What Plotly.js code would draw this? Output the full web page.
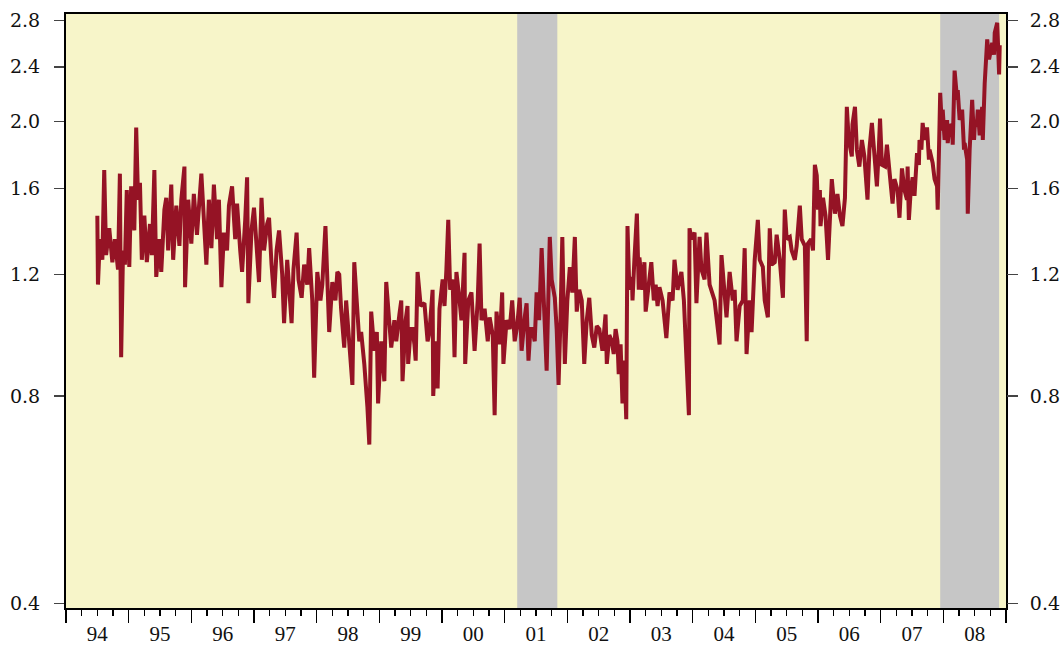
<!DOCTYPE html>
<html>
<head>
<meta charset="utf-8">
<script src="https://cdn.plot.ly/plotly-3.0.1.min.js"></script>
<style>html,body{margin:0;padding:0;background:#fff;}#chart{width:1062px;height:645px;}</style>
</head>
<body>
<div id="chart"></div>
<script>
const dates = [
1994.50,1994.51,1994.54,1994.58,1994.61,1994.64,1994.69,1994.74,1994.78,1994.83,
1994.86,1994.88,1994.91,1994.94,1994.97,1995.01,1995.04,1995.09,1995.12,1995.15,
1995.18,1995.21,1995.25,1995.29,1995.34,1995.37,1995.41,1995.44,1995.49,1995.52,
1995.57,1995.60,1995.63,1995.68,1995.71,1995.76,1995.81,1995.84,1995.89,1995.90,
1995.95,1996.00,1996.04,1996.09,1996.16,1996.20,1996.24,1996.28,1996.32,1996.36,
1996.41,1996.44,1996.48,1996.52,1996.57,1996.60,1996.65,1996.70,1996.73,1996.78,
1996.81,1996.86,1996.89,1996.91,1996.96,1997.00,1997.05,1997.08,1997.12,1997.16,
1997.21,1997.24,1997.28,1997.32,1997.36,1997.40,1997.45,1997.48,1997.53,1997.56,
1997.60,1997.63,1997.68,1997.71,1997.76,1997.80,1997.85,1997.88,1997.93,1997.96,
1998.01,1998.06,1998.09,1998.14,1998.17,1998.20,1998.25,1998.30,1998.33,1998.36,
1998.39,1998.44,1998.47,1998.52,1998.57,1998.60,1998.65,1998.68,1998.71,1998.76,
1998.81,1998.84,1998.87,1998.92,1998.96,1998.98,1999.03,1999.08,1999.11,1999.16,
1999.19,1999.24,1999.27,1999.32,1999.35,1999.37,1999.42,1999.45,1999.46,1999.50,
1999.53,1999.56,1999.58,1999.61,1999.66,1999.72,1999.77,1999.80,1999.85,1999.86,
1999.90,1999.93,1999.96,2000.01,2000.04,2000.07,2000.10,2000.13,2000.17,2000.20,
2000.23,2000.28,2000.31,2000.36,2000.37,2000.42,2000.47,2000.52,2000.57,2000.60,
2000.63,2000.68,2000.73,2000.76,2000.81,2000.84,2000.87,2000.92,2000.96,2000.98,
2001.03,2001.08,2001.12,2001.16,2001.20,2001.24,2001.27,2001.32,2001.35,2001.38,
2001.41,2001.44,2001.48,2001.51,2001.55,2001.59,2001.62,2001.67,2001.70,2001.72,
2001.75,2001.80,2001.83,2001.86,2001.89,2001.92,2001.96,2002.00,2002.04,2002.08,
2002.12,2002.15,2002.19,2002.23,2002.27,2002.31,2002.35,2002.39,2002.43,2002.47,
2002.51,2002.56,2002.61,2002.63,2002.67,2002.71,2002.74,2002.77,2002.80,2002.82,
2002.85,2002.88,2002.91,2002.94,2002.96,2002.99,2003.03,2003.04,2003.07,2003.11,
2003.14,2003.15,2003.20,2003.23,2003.25,2003.30,2003.34,2003.38,2003.41,2003.44,
2003.47,2003.52,2003.55,2003.58,2003.63,2003.68,2003.71,2003.76,2003.79,2003.82,
2003.86,2003.90,2003.94,2003.95,2003.98,2004.03,2004.06,2004.11,2004.14,2004.19,
2004.22,2004.27,2004.30,2004.35,2004.38,2004.43,2004.46,2004.51,2004.54,2004.59,
2004.64,2004.67,2004.70,2004.75,2004.80,2004.83,2004.86,2004.91,2004.94,2004.99,
2005.04,2005.07,2005.12,2005.15,2005.20,2005.23,2005.26,2005.31,2005.34,2005.39,
2005.44,2005.47,2005.50,2005.55,2005.58,2005.63,2005.66,2005.71,2005.74,2005.79,
2005.82,2005.84,2005.89,2005.92,2005.95,2005.98,2006.00,2006.03,2006.04,2006.08,
2006.12,2006.16,2006.19,2006.22,2006.27,2006.31,2006.35,2006.39,2006.43,2006.46,
2006.49,2006.54,2006.55,2006.59,2006.62,2006.66,2006.70,2006.74,2006.79,2006.82,
2006.86,2006.90,2006.94,2006.97,2006.99,2007.02,2007.07,2007.10,2007.15,2007.19,
2007.22,2007.27,2007.30,2007.34,2007.38,2007.42,2007.43,2007.45,2007.48,2007.51,
2007.54,2007.58,2007.61,2007.62,2007.65,2007.67,2007.70,2007.74,2007.77,2007.78,
2007.83,2007.86,2007.90,2007.91,2007.95,2007.98,2007.99,2008.02,2008.06,2008.07,
2008.10,2008.14,2008.15,2008.18,2008.22,2008.23,2008.26,2008.30,2008.33,2008.34,
2008.38,2008.39,2008.42,2008.46,2008.49,2008.50,2008.54,2008.55,2008.58,2008.62,
2008.63,2008.66,2008.70,2008.73,2008.78,2008.81,2008.82,2008.86,2008.89,2008.90
];
const values = [
1.46,1.16,1.35,1.26,1.70,1.28,1.40,1.25,1.35,1.22,
1.68,0.91,1.30,1.24,1.59,1.23,1.61,1.39,1.96,1.54,
1.63,1.26,1.46,1.25,1.42,1.28,1.70,1.19,1.35,1.21,
1.49,1.55,1.30,1.62,1.26,1.51,1.32,1.54,1.72,1.15,
1.54,1.33,1.57,1.37,1.68,1.39,1.24,1.54,1.31,1.62,
1.35,1.54,1.15,1.38,1.30,1.51,1.61,1.35,1.52,1.30,
1.21,1.44,1.66,1.09,1.39,1.50,1.26,1.17,1.55,1.30,
1.42,1.45,1.24,1.11,1.30,1.39,1.20,1.02,1.26,1.14,
1.02,1.22,1.38,1.18,1.11,1.24,1.16,1.31,1.10,0.85,
1.21,1.10,1.16,1.41,1.14,0.99,1.17,1.10,1.21,1.20,
1.07,0.94,1.10,0.95,0.83,1.25,1.07,0.96,0.99,0.89,
0.77,0.68,1.06,0.93,0.99,0.78,0.96,0.84,1.17,1.00,
0.94,1.03,0.96,1.05,1.10,0.84,1.03,1.08,0.89,1.00,
1.00,0.95,0.90,1.21,1.08,1.09,0.96,0.99,1.14,0.80,
0.96,0.82,1.07,1.18,1.08,1.22,1.44,1.14,1.18,0.91,
1.21,1.10,1.03,1.29,0.89,1.10,1.13,0.93,1.10,1.33,
1.03,1.07,0.96,1.04,0.98,0.75,1.06,0.95,1.13,0.89,
1.03,1.00,1.10,0.96,1.01,1.11,0.93,1.04,1.09,0.90,
1.00,1.00,0.96,1.13,1.03,1.31,1.10,0.87,1.14,1.36,
1.18,1.11,1.00,0.83,1.03,1.36,0.89,1.10,1.23,1.13,
1.36,1.06,1.14,1.10,0.89,1.03,1.11,0.98,0.94,1.01,
1.00,0.93,1.05,0.89,0.98,0.96,0.92,1.00,0.96,0.86,
0.95,0.78,0.90,0.74,1.41,1.14,1.19,1.10,1.26,1.47,
1.14,1.27,1.14,1.25,1.06,1.18,1.25,1.10,1.16,1.08,
1.15,1.10,1.03,0.97,1.13,1.10,1.26,1.14,1.18,1.21,
1.10,0.89,0.75,1.40,1.35,1.38,1.09,1.36,1.22,1.18,
1.38,1.16,1.14,1.10,1.04,0.95,1.28,1.14,1.04,1.21,
1.10,1.14,0.96,1.08,1.10,1.31,0.92,1.10,0.99,1.26,
1.44,1.26,1.23,1.10,1.04,1.40,1.24,1.25,1.37,1.26,
1.11,1.49,1.35,1.36,1.30,1.26,1.32,1.51,1.35,1.32,
0.96,1.33,1.35,1.30,1.73,1.67,1.49,1.59,1.41,1.55,
1.46,1.26,1.49,1.65,1.47,1.57,1.46,1.41,1.55,2.10,
1.88,1.78,1.98,2.10,1.82,1.72,1.88,1.78,1.54,1.82,
1.99,1.76,1.61,1.82,2.02,1.73,1.72,1.85,1.67,1.52,
1.65,1.59,1.45,1.71,1.59,1.54,1.72,1.44,1.59,1.66,
1.56,1.80,1.73,1.88,1.82,1.99,1.88,1.96,1.76,1.82,
1.74,1.65,1.61,1.49,2.20,1.94,2.08,1.88,2.01,1.86,
1.98,1.96,1.85,2.37,2.15,2.22,2.01,2.08,1.82,1.86,
1.76,1.47,1.82,2.15,1.88,1.96,2.01,2.08,1.91,2.10,
1.88,2.27,2.63,2.46,2.60,2.50,2.69,2.78,2.34,2.58
];
const yearStarts = [1994,1995,1996,1997,1998,1999,2000,2001,2002,2003,2004,2005,2006,2007,2008];
const yearLabels = ['94','95','96','97','98','99','00','01','02','03','04','05','06','07','08'];
const yTickVals = [0.4,0.8,1.2,1.6,2.0,2.4,2.8];
const yTickText = ['0.4','0.8','1.2','1.6','2.0','2.4','2.8'];
const recessionStart = [2001.20, 2007.95];
const recessionEnd = [2001.84, 2008.89];

const xRange = [1994, 2009];
const yRange = [Math.log10(0.394), Math.log10(2.863)];
const serif = 'DejaVu Serif, Liberation Serif, serif';

const trace = {
  x: dates, y: values, type: 'scatter', mode: 'lines',
  line: {color: '#951325', width: 4, shape: 'linear'},
  hoverinfo: 'skip', showlegend: false
};
// empty trace so the label axes (bottom year labels, right value labels) are drawn
const axisHolder = {
  x: [], y: [], type: 'scatter', mode: 'lines', xaxis: 'x2', yaxis: 'y2',
  hoverinfo: 'skip', showlegend: false
};

const shapes = recessionStart.map((s, i) => ({
  type: 'rect', xref: 'x', yref: 'paper', x0: s, x1: recessionEnd[i], y0: 0, y1: 1,
  fillcolor: '#c6c6c6', line: {width: 0}, layer: 'below'
}));

const layout = {
  width: 1062, height: 645,
  margin: {l: 66, r: 56, t: 14, b: 37},
  paper_bgcolor: '#ffffff', plot_bgcolor: '#f7f5c9',
  showlegend: false,
  shapes: shapes,
  xaxis: {
    range: xRange, tickmode: 'array', tickvals: yearStarts.concat([2009]),
    ticks: 'outside', ticklen: 13, tickwidth: 1.6, tickcolor: '#000',
    showticklabels: false, showline: true, linewidth: 2, linecolor: '#000', mirror: true,
    showgrid: false, zeroline: false, fixedrange: true,
    minor: {tickmode: 'linear', tick0: 1994, dtick: 0.25, ticks: 'outside', ticklen: 6, tickwidth: 1.2, tickcolor: '#000', showgrid: false}
  },
  xaxis2: {
    range: xRange, overlaying: 'x', anchor: 'y2', side: 'bottom',
    tickmode: 'array', tickvals: yearStarts.map(v => v + 0.5), ticktext: yearLabels,
    ticks: 'outside', ticklen: 7, tickcolor: 'rgba(0,0,0,0)',
    tickfont: {family: 'Liberation Serif, serif', size: 21, color: '#111'},
    showline: false, showgrid: false, zeroline: false, fixedrange: true
  },
  yaxis: {
    type: 'log', range: yRange, tickmode: 'array', tickvals: yTickVals, ticktext: yTickText,
    ticks: 'outside', ticklen: 10, tickwidth: 1.5, tickcolor: '#444',
    tickfont: {family: serif, size: 19, color: '#111'},
    showline: true, linewidth: 2, linecolor: '#000', mirror: true,
    showgrid: false, zeroline: false, fixedrange: true, ticklabelstandoff: 10
  },
  yaxis2: {
    type: 'log', range: yRange, overlaying: 'y', side: 'right', anchor: 'x2',
    tickmode: 'array', tickvals: yTickVals, ticktext: yTickText,
    ticks: 'outside', ticklen: 11, tickwidth: 1.5, tickcolor: '#444',
    tickfont: {family: serif, size: 19, color: '#111'},
    showline: false, showgrid: false, zeroline: false, fixedrange: true, ticklabelstandoff: 8
  }
};

Plotly.newPlot('chart', [trace, axisHolder], layout, {displayModeBar: false, staticPlot: true});
</script>
</body>
</html>
